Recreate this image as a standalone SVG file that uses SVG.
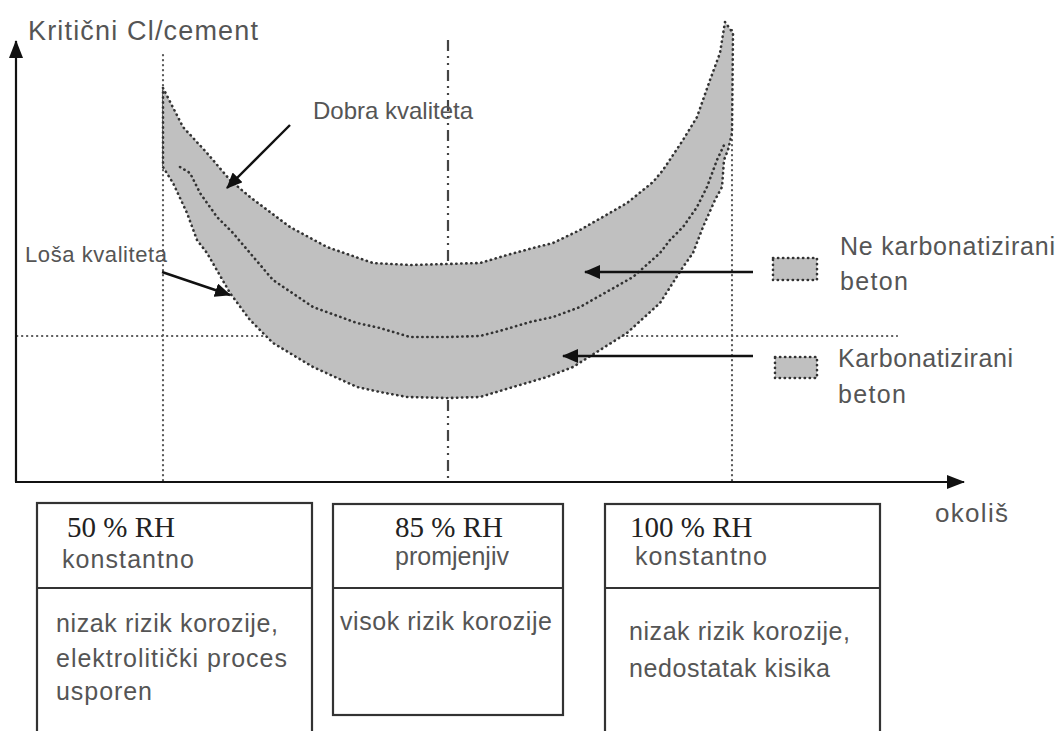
<svg xmlns="http://www.w3.org/2000/svg" width="1059" height="731" viewBox="0 0 1059 731">
<style>
.sans{font-family:"Liberation Sans",Arial,sans-serif;fill:#555555;}
.serif{font-family:"Liberation Serif","Times New Roman",serif;fill:#222222;font-size:29px;}
.axis{stroke:#111;stroke-width:2.2;fill:none;}
.grid{stroke:#555;stroke-width:2.2;fill:none;stroke-dasharray:0.3 4.7;stroke-linecap:round;}
.dashdot{stroke:#444;stroke-width:2.2;fill:none;stroke-dasharray:11 5 2 5 2 5;}
.band{fill:#c0c0c0;stroke:#333;stroke-width:2.6;stroke-dasharray:0.3 4.7;stroke-linecap:round;stroke-linejoin:round;}
.curve{fill:none;stroke:#333;stroke-width:2.6;stroke-dasharray:0.3 4.7;stroke-linecap:round;stroke-linejoin:round;}
.arr{stroke:#111;stroke-width:2.4;fill:none;}
.box{fill:none;stroke:#333;stroke-width:2.2;}
</style>
<defs>
<marker id="ah" markerWidth="16" markerHeight="14" refX="15" refY="7" orient="auto" markerUnits="userSpaceOnUse">
<path d="M0,0 L16,7 L0,14 Z" fill="#111"/>
</marker>
<marker id="ahAxis" markerWidth="18" markerHeight="14" refX="17" refY="7" orient="auto" markerUnits="userSpaceOnUse">
<path d="M0,0 L18,7 L0,14 Z" fill="#111"/>
</marker>
</defs>
<rect width="1059" height="731" fill="#ffffff"/>

<g id="gridlines">
<line class="grid" x1="163" y1="55" x2="163" y2="482"/>
<line class="grid" x1="732" y1="30" x2="732" y2="482"/>
<line class="grid" x1="17" y1="336" x2="897" y2="336"/>
<line class="dashdot" x1="448" y1="40" x2="448" y2="482"/>
</g>

<g id="bands">
<path class="band" d="M163,88 L183,127 L207,153 L230,180 L250,197 L290,227 L327,247 L373,263 L410,265 L447,264 L480,263 L507,255 L533,248 L553,243 L580,230 L627,203 L653,182 L663,170 L683,140 L697,117 L710,80 L720,53 L725,22 L733,33 L732,133 L728,150 L724,160 L722,187 L715,200 L703,227 L693,253 L683,267 L660,303 L627,333 L600,350 L573,367 L547,377 L513,387 L480,397 L447,398 L407,397 L380,392 L357,387 L313,367 L273,343 L250,320 L230,293 L207,253 L197,240 L187,213 L173,183 L163,167 Z"/>
<polyline class="curve" points="180,167 190,173 200,193 217,217 233,233 273,280 313,307 357,323 380,328 410,337 447,337 480,336 503,330 530,322 553,317 580,307 633,277 660,253 670,240 683,227 697,207 707,187 717,160 725,143"/>
</g>

<g id="axes">
<line class="axis" x1="16" y1="482" x2="16" y2="41" marker-end="url(#ahAxis)"/>
<line class="axis" x1="15" y1="482" x2="964" y2="482" marker-end="url(#ahAxis)"/>
</g>

<g id="connectors">
<line class="arr" x1="290" y1="125" x2="227" y2="188" marker-end="url(#ah)"/>
<line class="arr" x1="162" y1="272" x2="230" y2="295" marker-end="url(#ah)"/>
<line class="arr" x1="753" y1="272" x2="585" y2="272" marker-end="url(#ah)"/>
<line class="arr" x1="753" y1="356" x2="563" y2="356" marker-end="url(#ah)"/>
</g>

<g id="labels">
<text class="sans" x="28" y="40" font-size="27" textLength="230">Kritični Cl/cement</text>
<text class="sans" x="313" y="119" font-size="24" textLength="160">Dobra kvaliteta</text>
<text class="sans" x="25" y="262" font-size="22" textLength="142">Loša kvaliteta</text>
<text class="sans" x="935" y="522" font-size="26" textLength="73">okoliš</text>
</g>

<g id="legend-ne-karbonatizirani">
<rect class="band" x="773" y="258" width="44" height="22"/>
<text class="sans" x="840" y="255" font-size="25" textLength="215">Ne karbonatizirani</text>
<text class="sans" x="840" y="290" font-size="25" textLength="68">beton</text>
</g>
<g id="legend-karbonatizirani">
<rect class="band" x="775" y="357" width="42" height="21"/>
<text class="sans" x="838" y="367" font-size="25" textLength="175">Karbonatizirani</text>
<text class="sans" x="838" y="403" font-size="25" textLength="68">beton</text>
</g>

<g id="box-50">
<rect class="box" x="37" y="503" width="275" height="250"/>
<line class="box" x1="37" y1="588" x2="312" y2="588"/>
<text class="serif" x="67" y="537">50 % RH</text>
<text class="sans" x="62" y="568" font-size="25" textLength="132">konstantno</text>
<text class="sans" x="56" y="632" font-size="25" textLength="222">nizak rizik korozije,</text>
<text class="sans" x="56" y="667" font-size="25" textLength="231">elektrolitički proces</text>
<text class="sans" x="56" y="700" font-size="25" textLength="96">usporen</text>
</g>

<g id="box-85">
<rect class="box" x="333" y="504" width="230" height="211"/>
<line class="box" x1="333" y1="588" x2="563" y2="588"/>
<text class="serif" x="449" y="537" text-anchor="middle">85 % RH</text>
<text class="sans" x="452" y="565" font-size="25" text-anchor="middle">promjenjiv</text>
<text class="sans" x="340" y="630" font-size="25" textLength="212">visok rizik korozije</text>
</g>

<g id="box-100">
<rect class="box" x="605" y="504" width="275" height="250"/>
<line class="box" x1="605" y1="588" x2="880" y2="588"/>
<text class="serif" x="630" y="537">100 % RH</text>
<text class="sans" x="635" y="565" font-size="25" textLength="132">konstantno</text>
<text class="sans" x="629" y="640" font-size="25" textLength="221">nizak rizik korozije,</text>
<text class="sans" x="629" y="677" font-size="25" textLength="201">nedostatak kisika</text>
</g>
</svg>
